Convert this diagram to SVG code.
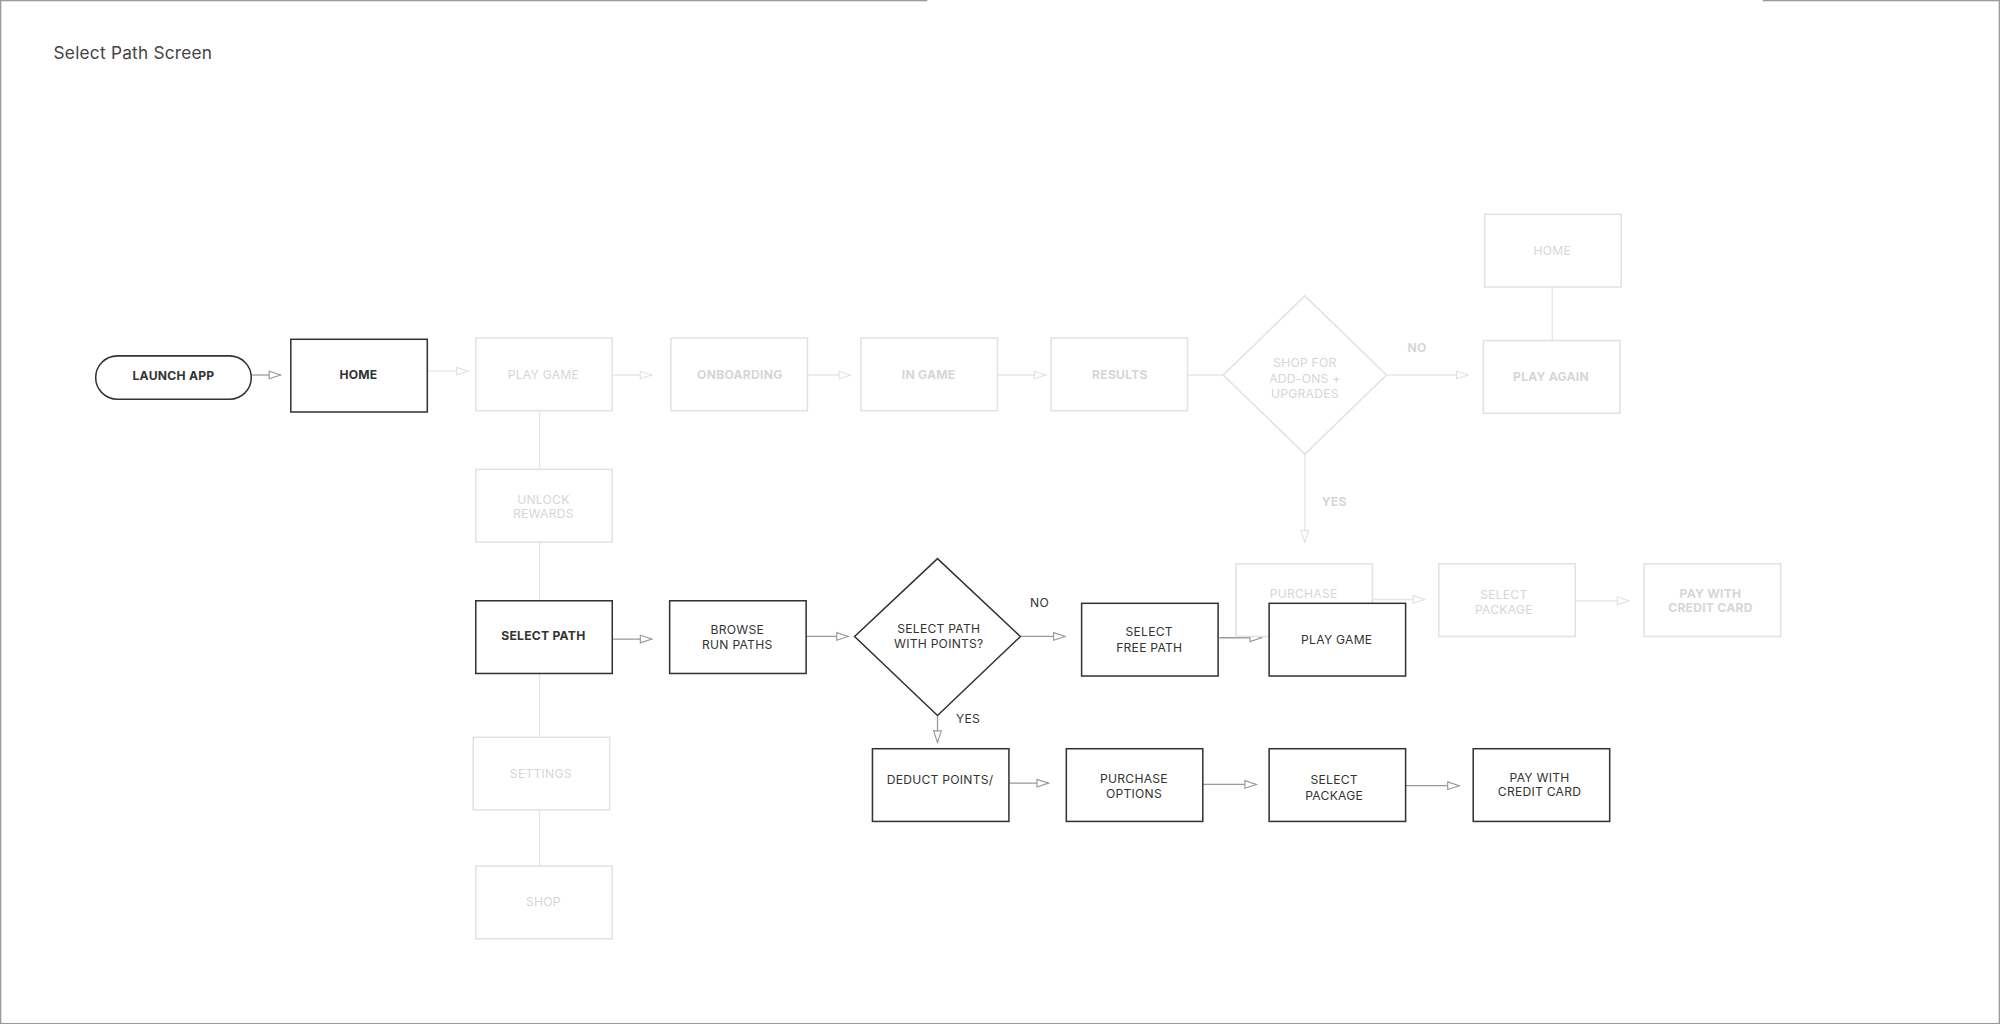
<svg xmlns="http://www.w3.org/2000/svg" width="2000" height="1024" viewBox="0 0 2000 1024">
<style>
text{font-family:"Inter","Liberation Sans",sans-serif;font-size:9.5px;text-anchor:middle;letter-spacing:0.2px}
.d rect,.d path{fill:#fff;stroke:#333;stroke-width:1.2}
.f rect,.f path{fill:#fff;stroke:#e2e2e2;stroke-width:1.2}
.d text{fill:#333}
.f text{fill:#d6d6d6}
.b{font-weight:700}
.cd{stroke:#999;stroke-width:1;fill:none}
.cf{stroke:#e6e6e6;stroke-width:1;fill:none}
</style>
<defs>
<marker id="ad" markerWidth="12" markerHeight="8" refX="10" refY="4" orient="auto" markerUnits="userSpaceOnUse"><path d="M1,1 L10,4 L1,7 Z" fill="#fff" stroke="#999" stroke-width="0.9"/></marker>
<marker id="af" markerWidth="12" markerHeight="8" refX="10" refY="4" orient="auto" markerUnits="userSpaceOnUse"><path d="M1,1 L10,4 L1,7 Z" fill="#fff" stroke="#e2e2e2" stroke-width="0.9"/></marker>
</defs>
<rect x="0" y="0" width="2000" height="1024" fill="#fff"/>
<g transform="scale(1.27551)">
<rect x="0.5" y="0.5" width="1567" height="802" fill="none" stroke="#999" stroke-width="1"/>
<line x1="727" y1="0.5" x2="1382" y2="0.5" stroke="#fff" stroke-width="2"/>
<text x="42" y="46" style="text-anchor:start;font-size:13.5px;fill:#444">Select Path Screen</text>

<g id="connectors">
<line class="cf" x1="423" y1="322" x2="423" y2="679"/>
<line class="cf" x1="1217" y1="225" x2="1217" y2="267"/>
<line class="cd" x1="197" y1="294" x2="220" y2="294" marker-end="url(#ad)"/>
<line class="cf" x1="335" y1="291" x2="367" y2="291" marker-end="url(#af)"/>
<line class="cf" x1="480" y1="294" x2="511" y2="294" marker-end="url(#af)"/>
<line class="cf" x1="633" y1="294" x2="667" y2="294" marker-end="url(#af)"/>
<line class="cf" x1="782" y1="294" x2="820" y2="294" marker-end="url(#af)"/>
<line class="cf" x1="931" y1="294" x2="959" y2="294"/>
<line class="cf" x1="1088" y1="294" x2="1151" y2="294" marker-end="url(#af)"/>
<line class="cf" x1="1023" y1="356" x2="1023" y2="425" marker-end="url(#af)"/>
<line class="cf" x1="1076" y1="470" x2="1117" y2="470" marker-end="url(#af)"/>
<line class="cf" x1="1235" y1="471" x2="1277" y2="471" marker-end="url(#af)"/>
<line class="cd" x1="480" y1="501" x2="511" y2="501" marker-end="url(#ad)"/>
<line class="cd" x1="632" y1="499" x2="665" y2="499" marker-end="url(#ad)"/>
<line class="cd" x1="800" y1="499" x2="835" y2="499" marker-end="url(#ad)"/>
<line class="cd" x1="956" y1="500" x2="989" y2="500" marker-end="url(#ad)"/>
<line class="cd" x1="735" y1="561" x2="735" y2="582" marker-end="url(#ad)"/>
<line class="cd" x1="791" y1="614" x2="822" y2="614" marker-end="url(#ad)"/>
<line class="cd" x1="943" y1="615" x2="985" y2="615" marker-end="url(#ad)"/>
<line class="cd" x1="1102" y1="616" x2="1144" y2="616" marker-end="url(#ad)"/>
<text x="1111" y="276" class="b" style="fill:#d6d6d6">NO</text>
<text x="1046" y="397" class="b" style="fill:#d6d6d6">YES</text>
<text x="815" y="476" style="fill:#333">NO</text>
<text x="759" y="567" style="fill:#333">YES</text>
</g>

<g id="launch" class="d"><rect x="75" y="279" width="122" height="34" rx="17"/><text x="136" y="298" class="b">LAUNCH APP</text></g>
<g id="home" class="d"><rect x="228" y="266" width="107" height="57"/><text x="281" y="297" class="b">HOME</text></g>
<g id="playgame1" class="f"><rect x="373" y="265" width="107" height="57"/><text x="426" y="297">PLAY GAME</text></g>
<g id="onboarding" class="f"><rect x="526" y="265" width="107" height="57"/><text x="580" y="297" class="b">ONBOARDING</text></g>
<g id="ingame" class="f"><rect x="675" y="265" width="107" height="57"/><text x="728" y="297" class="b">IN GAME</text></g>
<g id="results" class="f"><rect x="824" y="265" width="107" height="57"/><text x="878" y="297" class="b">RESULTS</text></g>
<g id="shop-decision" class="f"><path d="M1023,232 L1087,294 L1023,356 L959,294 Z"/><text x="1023" y="288">SHOP FOR</text><text x="1023" y="300">ADD-ONS +</text><text x="1023" y="312">UPGRADES</text></g>
<g id="home2" class="f"><rect x="1164" y="168" width="107" height="57"/><text x="1217" y="200">HOME</text></g>
<g id="playagain" class="f"><rect x="1163" y="267" width="107" height="57"/><text x="1216" y="299" class="b">PLAY AGAIN</text></g>
<g id="purchase" class="f"><rect x="969" y="442" width="107" height="57"/><text x="1022" y="469">PURCHASE</text></g>
<g id="selectpackage1" class="f"><rect x="1128" y="442" width="107" height="57"/><text x="1179" y="470">SELECT</text><text x="1179" y="481">PACKAGE</text></g>
<g id="paycc1" class="f"><rect x="1289" y="442" width="107" height="57"/><text x="1341" y="469" class="b">PAY WITH</text><text x="1341" y="480" class="b">CREDIT CARD</text></g>
<g id="unlock" class="f"><rect x="373" y="368" width="107" height="57"/><text x="426" y="395">UNLOCK</text><text x="426" y="406">REWARDS</text></g>
<g id="selectpath" class="d"><rect x="373" y="471" width="107" height="57"/><text x="426" y="502" class="b">SELECT PATH</text></g>
<g id="settings" class="f"><rect x="371" y="578" width="107" height="57"/><text x="424" y="610">SETTINGS</text></g>
<g id="shop" class="f"><rect x="373" y="679" width="107" height="57"/><text x="426" y="710">SHOP</text></g>
<g id="browse" class="d"><rect x="525" y="471" width="107" height="57"/><text x="578" y="497">BROWSE</text><text x="578" y="509">RUN PATHS</text></g>
<g id="points-decision" class="d"><path d="M735,438 L800,499 L735,561 L670,499 Z"/><text x="736" y="496">SELECT PATH</text><text x="736" y="508">WITH POINTS?</text></g>
<g id="freepath" class="d"><rect x="848" y="473" width="107" height="57"/><text x="901" y="499">SELECT</text><text x="901" y="511">FREE PATH</text></g>
<g id="playgame2" class="d"><rect x="995" y="473" width="107" height="57"/><text x="1048" y="505">PLAY GAME</text></g>
<g id="deduct" class="d"><rect x="684" y="587" width="107" height="57"/><text x="737" y="615">DEDUCT POINTS/</text></g>
<g id="purchaseoptions" class="d"><rect x="836" y="587" width="107" height="57"/><text x="889" y="614">PURCHASE</text><text x="889" y="626">OPTIONS</text></g>
<g id="selectpackage2" class="d"><rect x="995" y="587" width="107" height="57"/><text x="1046" y="615">SELECT</text><text x="1046" y="627">PACKAGE</text></g>
<g id="paycc2" class="d"><rect x="1155" y="587" width="107" height="57"/><text x="1207" y="613">PAY WITH</text><text x="1207" y="624">CREDIT CARD</text></g>
</g>
</svg>
